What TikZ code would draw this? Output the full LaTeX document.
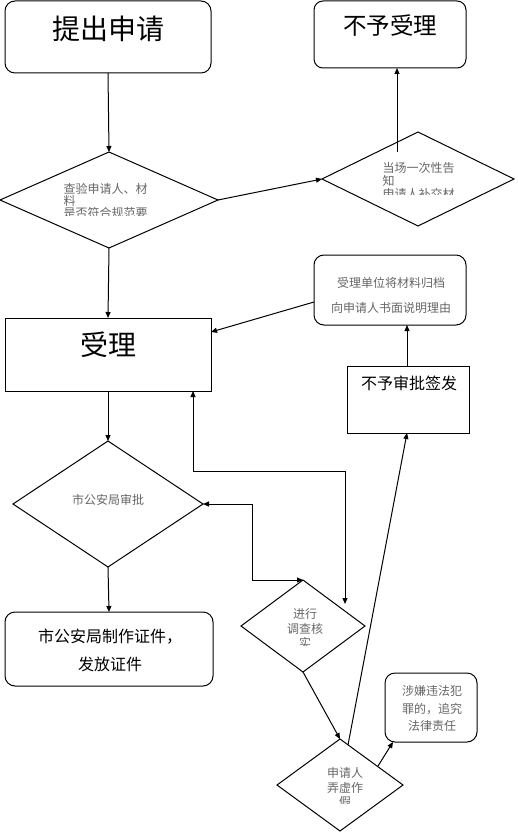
\documentclass[tikz,border=0pt]{standalone}
\usepackage{fontspec}
\newfontfamily\cjk{Noto Sans CJK SC}
\usetikzlibrary{shapes.geometric,arrows.meta}
\begin{document}
\begin{tikzpicture}[x=1pt,y=-1pt,
  line width=1pt,
  arr/.style={-{Triangle[length=6pt,width=5pt]}},
  darr/.style={{Triangle[length=6pt,width=5pt]}-{Triangle[length=6pt,width=5pt]}},
  rbox/.style={draw, rounded corners=10pt, inner sep=0pt, outer sep=0pt},
  sbox/.style={draw, inner sep=0pt, outer sep=0pt},
  dia/.style={draw, diamond, inner sep=0pt, outer sep=0pt},
  small/.style={font=\cjk\fontsize{12}{13}\selectfont, text=black!60, inner sep=0pt},
  big/.style={font=\cjk\fontsize{28}{30}\selectfont, inner sep=0pt},
  mid/.style={font=\cjk\fontsize{16}{28}\selectfont, inner sep=0pt}]
\useasboundingbox (0,0) rectangle (517,834);
\fill[white] (0,0) rectangle (517,834);

% boxes
\node[rbox, minimum width=206pt, minimum height=72pt] (b1) at (108,37) {};
\node[big] (b1t) at (108,29) {提出申请};
\node[rbox, rounded corners=9pt, minimum width=152pt, minimum height=67pt] (b2) at (390,34.5) {};
\node[font=\cjk\fontsize{23.5}{25}\selectfont, inner sep=0pt] (b2t) at (390,26) {不予受理};
\node[sbox, minimum width=206pt, minimum height=73pt] (b3) at (108,354.5) {};
\node[big] (b3t) at (108,345) {受理};
\node[rbox, minimum width=152pt, minimum height=70pt] (b4) at (390,290) {};
\node[small, align=center, font=\cjk\fontsize{12}{25}\selectfont] (b4t) at (391,295.5) {受理单位将材料归档\\向申请人书面说明理由};
\node[sbox, minimum width=122pt, minimum height=67pt] (b5) at (408,399.5) {};
\node[mid] (b5t) at (409,383) {不予审批签发};
\node[rbox, minimum width=208pt, minimum height=74pt] (b6) at (109,649) {};
\node[mid, align=center] (b6t) at (110,650) {市公安局制作证件，\\发放证件};
\node[rbox, minimum width=92pt, minimum height=69pt] (b7) at (431,707.5) {};
\node[small, align=center, font=\cjk\fontsize{12}{17.5}\selectfont] (b7t) at (432,708.5) {涉嫌违法犯\\罪的，追究\\法律责任};

% diamonds
\node[dia, minimum width=218pt, minimum height=96pt] (d1) at (109,200) {};
\node[dia, minimum width=192pt, minimum height=94pt] (d2) at (418,179) {};
\node[dia, minimum width=190pt, minimum height=126pt] (d3) at (108,504) {};
\node[dia, minimum width=124pt, minimum height=92pt] (d4) at (303,626) {};
\node[dia, minimum width=126pt, minimum height=92pt] (d5) at (340,785) {};

\begin{scope}
\clip (0,150) rectangle (220,216);
\node[small, align=left, font=\cjk\fontsize{12}{12}\selectfont, anchor=north west] (d1t) at (63,183) {查验申请人、材\\料\\是否符合规范要\\求};
\end{scope}
\begin{scope}
\clip (320,130) rectangle (515,195);
\node[small, align=left, font=\cjk\fontsize{12}{13}\selectfont, anchor=north west] (d2t) at (382,162) {当场一次性告\\知\\申请人补交材\\料};
\end{scope}
\node[small] (d3t) at (108,500) {市公安局审批};
\begin{scope}
\clip (240,600) rectangle (370,645);
\node[small, align=center, font=\cjk\fontsize{12}{14.5}\selectfont, anchor=north] (d4t) at (305,608) {进行\\调查核\\实};
\end{scope}
\begin{scope}
\clip (275,760) rectangle (405,803);
\node[small, align=center, font=\cjk\fontsize{12}{14.5}\selectfont, anchor=north] (d5t) at (345,767) {申请人\\弄虚作\\假};
\end{scope}

% free-end coordinates
\coordinate (d2in) at (397,152);
\coordinate (d4in) at (345,604);
\coordinate (d5a) at (348,745);
\coordinate (d5b) at (378,766);

% connectors
\draw[arr] (b1.south) -- (d1.north);
\draw[arr] (d1.east) -- (d2.west);
\draw[arr] (d2in) -- (d2in |- b2.south);
\draw[arr] (d1.south) -- (b3.north);
\draw[arr] ([yshift=-12pt]b4.west) -- ([yshift=22.5pt]b3.east);
\draw[arr] (b5.north -| 407,0) -- (407,0 |- b4.south);
\draw[arr] (b3.south) -- (d3.north);
\draw[arr] (d3.south) -- (b6.north);
\draw[darr] (d3.east) -- ++(49,0) |- (d4.north);
\draw[darr] ([xshift=85pt]b3.south) -- ++(0,80) -| (d4in);
\draw[arr] (d4.south) -- (d5.north);
\draw[arr] (d5a) -- ([xshift=-1pt]b5.south);
\draw[arr] (d5b) -- ([xshift=-38pt]b7.south);
\end{tikzpicture}
\end{document}
